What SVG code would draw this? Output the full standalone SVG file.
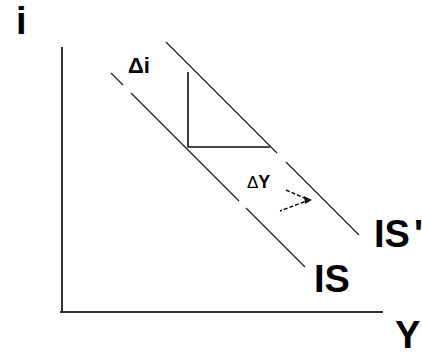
<svg xmlns="http://www.w3.org/2000/svg" width="422" height="356" viewBox="0 0 422 356">
<style>
.axis{stroke:#333;stroke-width:2;fill:none}
.curve{stroke:#222;stroke-width:1.3;fill:none}
.tri{stroke:#111;stroke-width:1.6;fill:none}
.dash{stroke:#111;stroke-width:1.5;fill:none;stroke-dasharray:4 2}
.big{font-family:"Liberation Sans",Arial,sans-serif;font-weight:bold;font-size:38px;fill:#000}
.small{font-family:"Liberation Sans",Arial,sans-serif;font-weight:bold;font-size:22px;fill:#000}
</style>
<rect width="422" height="356" fill="#fff"/>
<g id="axes">
<line class="axis" x1="62" y1="47" x2="62" y2="313"/>
<line class="axis" x1="60" y1="312" x2="383" y2="312"/>
</g>
<g id="connectors">
<line class="curve" x1="111" y1="73" x2="123" y2="85"/>
<line class="curve" x1="131" y1="93" x2="239" y2="201"/>
<line class="curve" x1="246" y1="208" x2="305" y2="267"/>
<line class="curve" x1="166" y1="42" x2="277" y2="153"/>
<line class="curve" x1="286" y1="162" x2="359" y2="235"/>
<polyline class="tri" points="188,72 188,147 270,147"/>
<polyline class="dash" points="286,190 309,200 280,211"/>
<polygon points="304,196 312,200 305,204" fill="#111"/>
</g>
<g id="label-i"><text class="big" x="16" y="34">i</text></g>
<g id="label-di"><text class="small" x="128" y="73">Δi</text></g>
<g id="label-dY"><text x="247" y="188" font-family="Liberation Sans,Arial,sans-serif" font-size="17"><tspan>Δ</tspan><tspan font-weight="bold" font-size="18">Y</tspan></text></g>
<g id="label-IS"><text class="big" x="314" y="292">IS</text></g>
<g id="label-ISp"><text class="big" x="374" y="247">IS<tspan dx="4">'</tspan></text></g>
<g id="label-Y"><text class="big" x="395" y="348">Y</text></g>
</svg>
